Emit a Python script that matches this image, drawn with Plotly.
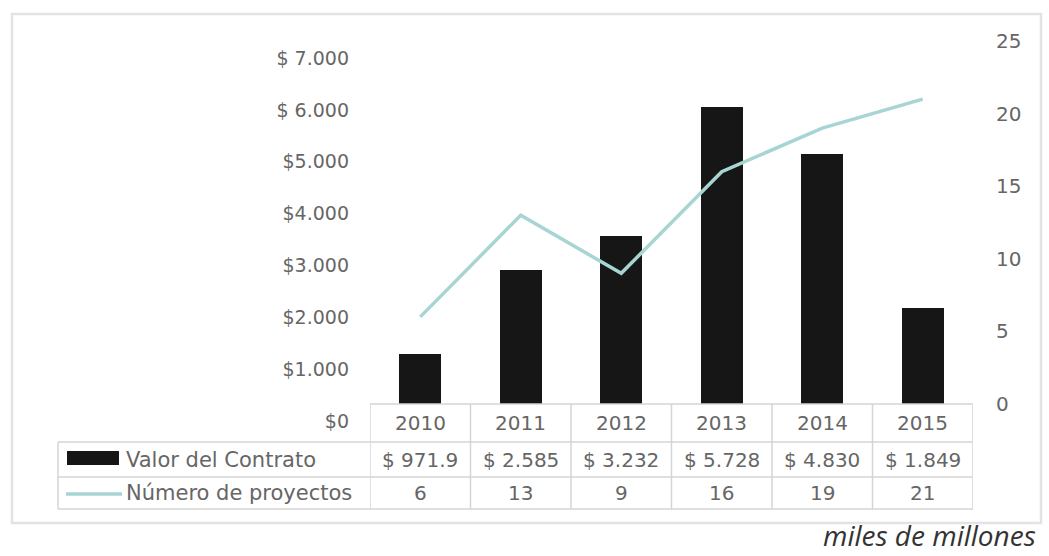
import plotly.graph_objects as go

# Data
years = ["2010", "2011", "2012", "2013", "2014", "2015"]
valor_contrato = [971.9, 2585, 3232, 5728, 4830, 1849]   # miles de millones
numero_proyectos = [6, 13, 9, 16, 19, 21]
valor_ticks = [0, 1000, 2000, 3000, 4000, 5000, 6000, 7000]
valor_tick_text = ["$0", "$1.000", "$2.000", "$3.000", "$4.000", "$5.000", "$ 6.000", "$ 7.000"]
proyectos_ticks = [0, 5, 10, 15, 20, 25]
serie_nombres = ["Valor del Contrato", "Número de proyectos"]
nota_unidades = "miles de millones"

W, H = 1049, 556
FONT = "DejaVu Sans"
TEXT = "#666666"
GRID = "#d4d4d4"
BAR = "#161616"
LINE = "#a7d5d3"


def fx(p):
    return p / W


def fy(p):
    return 1 - p / H


def fmt_valor(v):
    if v < 1000:
        return f"$ {v:.1f}"
    return "$ " + f"{int(round(v)):,}".replace(",", ".")


fig = go.Figure()

fig.add_trace(go.Bar(
    x=years, y=valor_contrato, name=serie_nombres[0],
    marker=dict(color=BAR, line=dict(width=0)), width=0.42,
    yaxis="y", hoverinfo="x+y",
))
fig.add_trace(go.Scatter(
    x=years, y=numero_proyectos, name=serie_nombres[1], mode="lines",
    line=dict(color=LINE, width=3.5), yaxis="y2",
))

x0, x1 = 370, 973          # plot area horizontal extent (px)
y_top, y_base = 41, 404    # plot area vertical extent (px)
row_lines = [404, 442, 477, 509]
table_left = 58

fig.update_layout(
    width=W, height=H,
    margin=dict(l=0, r=0, t=0, b=0, autoexpand=False),
    paper_bgcolor="white", plot_bgcolor="white",
    showlegend=False,
    bargap=0,
    font=dict(family=FONT, size=20, color=TEXT),
    xaxis=dict(
        domain=[fx(x0), fx(x1)], range=[-0.5, 5.5], type="category",
        showticklabels=False, showgrid=False, zeroline=False, showline=False,
        automargin=False,
    ),
    yaxis=dict(
        domain=[fy(y_base), fy(y_top)], range=[0, 7000],
        tickvals=valor_ticks, ticktext=valor_tick_text,
        showgrid=False, zeroline=False, showline=False, ticks="",
        ticklabelstandoff=20, ticklabelshift=17, automargin=False,
        tickfont=dict(family=FONT, size=19, color=TEXT),
    ),
    yaxis2=dict(
        overlaying="y", side="right", range=[0, 25],
        tickvals=proyectos_ticks,
        showgrid=False, zeroline=False, showline=False, ticks="",
        ticklabelstandoff=22, automargin=False,
        tickfont=dict(family=FONT, size=20, color=TEXT),
    ),
)

shapes = []
# outer frame
shapes.append(dict(type="rect", xref="paper", yref="paper",
                   x0=fx(12), x1=fx(1041), y0=fy(523), y1=fy(14),
                   line=dict(color="#e3e3e3", width=2.5), layer="below"))
# data table horizontal rules
for i, yy in enumerate(row_lines):
    left = x0 if i == 0 else table_left
    shapes.append(dict(type="line", xref="paper", yref="paper",
                       x0=fx(left), x1=fx(x1), y0=fy(yy), y1=fy(yy),
                       line=dict(color=GRID, width=1.5)))
# data table vertical rules at category boundaries
for k in range(len(years) + 1):
    shapes.append(dict(type="line", xref="x", yref="paper",
                       x0=k - 0.5, x1=k - 0.5, y0=fy(row_lines[-1]), y1=fy(row_lines[0]),
                       line=dict(color=GRID, width=1.5)))
shapes.append(dict(type="line", xref="paper", yref="paper",
                   x0=fx(table_left), x1=fx(table_left),
                   y0=fy(row_lines[-1]), y1=fy(row_lines[1]),
                   line=dict(color=GRID, width=1.5)))
# legend keys inside the table
shapes.append(dict(type="rect", xref="paper", yref="paper",
                   x0=fx(67), x1=fx(119), y0=fy(465), y1=fy(451),
                   fillcolor=BAR, line=dict(width=0)))
shapes.append(dict(type="line", xref="paper", yref="paper",
                   x0=fx(66), x1=fx(122), y0=fy(494), y1=fy(494),
                   line=dict(color=LINE, width=3.5)))

annotations = []
row_mid = [(row_lines[i] + row_lines[i + 1]) / 2 for i in range(3)]
for idx, (yr, v, n) in enumerate(zip(years, valor_contrato, numero_proyectos)):
    for text, ym in ((yr, row_mid[0]), (fmt_valor(v), row_mid[1]), (str(n), row_mid[2])):
        annotations.append(dict(x=idx, xref="x", y=fy(ym), yref="paper",
                                text=text, showarrow=False,
                                xanchor="center", yanchor="middle",
                                font=dict(family=FONT, size=20, color=TEXT)))
for name, ym in zip(serie_nombres, row_mid[1:]):
    annotations.append(dict(x=fx(124), xref="paper", y=fy(ym), yref="paper",
                            text=name, showarrow=False,
                            xanchor="left", yanchor="middle",
                            font=dict(family=FONT, size=21, color=TEXT)))
annotations.append(dict(x=fx(1037), xref="paper", y=fy(555), yref="paper",
                        text=nota_unidades, showarrow=False,
                        xanchor="right", yanchor="bottom", borderpad=0,
                        font=dict(family="Open Sans", size=28, color="#333333",
                                  style="italic")))

fig.update_layout(shapes=shapes, annotations=annotations)

fig.write_html("out.html")
